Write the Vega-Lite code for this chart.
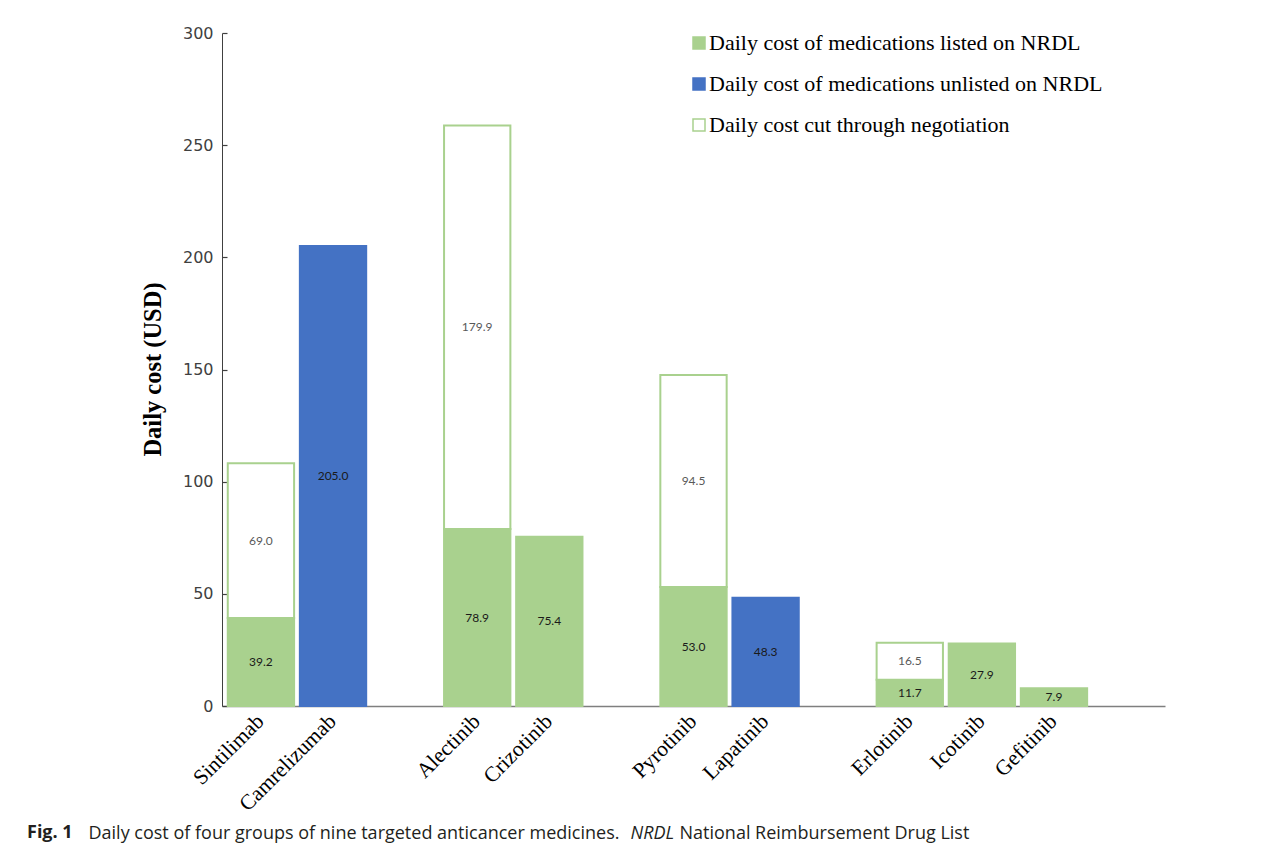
{
  "$schema": "https://vega.github.io/schema/vega-lite/v6.json",
  "width": 943,
  "height": 673,
  "autosize": {"type": "none"},
  "padding": {"left": 222, "top": 33, "right": 119, "bottom": 146},
  "background": "white",
  "config": {"view": {"stroke": null}},
  "title": {
    "text": "Fig. 1",
    "orient": "bottom",
    "anchor": "start",
    "frame": "group",
    "font": "Open Sans",
    "fontSize": 18,
    "fontWeight": "bold",
    "color": "#231f20",
    "dx": -195,
    "dy": -19,
    "offset": 1
  },
  "data": {
    "values": [
      {"drug": "Sintilimab", "seg": "Daily cost of medications listed on NRDL", "ord": 1, "value": 39.2, "label": "39.2"},
      {"drug": "Sintilimab", "seg": "Daily cost cut through negotiation", "ord": 2, "value": 69.0, "label": "69.0"},
      {"drug": "Camrelizumab", "seg": "Daily cost of medications unlisted on NRDL", "ord": 1, "value": 205.0, "label": "205.0"},
      {"drug": "Alectinib", "seg": "Daily cost of medications listed on NRDL", "ord": 1, "value": 78.9, "label": "78.9"},
      {"drug": "Alectinib", "seg": "Daily cost cut through negotiation", "ord": 2, "value": 179.9, "label": "179.9"},
      {"drug": "Crizotinib", "seg": "Daily cost of medications listed on NRDL", "ord": 1, "value": 75.4, "label": "75.4"},
      {"drug": "Pyrotinib", "seg": "Daily cost of medications listed on NRDL", "ord": 1, "value": 53.0, "label": "53.0"},
      {"drug": "Pyrotinib", "seg": "Daily cost cut through negotiation", "ord": 2, "value": 94.5, "label": "94.5"},
      {"drug": "Lapatinib", "seg": "Daily cost of medications unlisted on NRDL", "ord": 1, "value": 48.3, "label": "48.3"},
      {"drug": "Erlotinib", "seg": "Daily cost of medications listed on NRDL", "ord": 1, "value": 11.7, "label": "11.7"},
      {"drug": "Erlotinib", "seg": "Daily cost cut through negotiation", "ord": 2, "value": 16.5, "label": "16.5"},
      {"drug": "Icotinib", "seg": "Daily cost of medications listed on NRDL", "ord": 1, "value": 27.9, "label": "27.9"},
      {"drug": "Gefitinib", "seg": "Daily cost of medications listed on NRDL", "ord": 1, "value": 7.9, "label": "7.9"}
    ]
  },
  "transform": [
    {"stack": "value", "groupby": ["drug"], "sort": [{"field": "ord", "order": "ascending"}], "as": ["v0", "v1"]},
    {"calculate": "(datum.v0 + datum.v1) / 2", "as": "mid"}
  ],
  "resolve": {"axis": {"x": "independent", "y": "independent"}},
  "layer": [
    {
      "mark": {"type": "bar", "strokeWidth": 2},
      "encoding": {
        "x": {
          "field": "drug",
          "type": "nominal",
          "scale": {
            "domain": ["Sintilimab", "Camrelizumab", " ", "Alectinib", "Crizotinib", "  ", "Pyrotinib", "Lapatinib", "   ", "Erlotinib", "Icotinib", "Gefitinib", "    "],
            "paddingInner": 0.08,
            "paddingOuter": 0.08
          },
          "axis": {
            "orient": "bottom",
            "labelAngle": -45,
            "labelAlign": "right",
            "labelBaseline": "middle",
            "labelFont": "Liberation Serif",
            "labelFontSize": 21.5,
            "labelColor": "#000000",
            "labelPadding": 12,
            "ticks": false,
            "domainColor": "#7f7f7f",
            "domainWidth": 1.5,
            "title": "Daily cost of four groups of nine targeted anticancer medicines.",
            "titleX": -134,
            "titleY": 127,
            "titleAlign": "left",
            "titleBaseline": "middle",
            "titleFont": "Open Sans",
            "titleFontSize": 18,
            "titleFontWeight": "normal",
            "titleColor": "#231f20",
            "titleLimit": 1200,
            "labelOverlap": false
          }
        },
        "y": {
          "field": "v1",
          "type": "quantitative",
          "scale": {"domain": [0, 300]},
          "axis": {
            "orient": "left",
            "values": [0, 50, 100, 150, 200, 250, 300],
            "grid": false,
            "tickSize": -5,
            "tickWidth": 1.2,
            "tickColor": "#404040",
            "domainColor": "#404040",
            "labelFont": "DejaVu Sans",
            "labelFontSize": 16,
            "labelColor": "#404040",
            "labelPadding": 14,
            "title": "Daily cost (USD)",
            "titleFont": "Liberation Serif",
            "titleFontSize": 24.5,
            "titleFontWeight": "bold",
            "titleColor": "#000000",
            "titleX": -69,
            "titleY": 336,
            "titleAlign": "center",
            "titleBaseline": "middle",
            "titleAngle": 270
          }
        },
        "y2": {"field": "v0"},
        "fill": {
          "field": "seg",
          "type": "nominal",
          "scale": {
            "domain": ["Daily cost of medications listed on NRDL", "Daily cost of medications unlisted on NRDL", "Daily cost cut through negotiation"],
            "range": ["#a9d18e", "#4472c4", "#ffffff"]
          },
          "legend": {
            "orient": "none",
            "legendX": 466,
            "legendY": -1,
            "title": null,
            "symbolType": "square",
            "symbolSize": 144,
            "symbolStrokeWidth": 1.5,
            "labelFont": "Liberation Serif",
            "labelFontSize": 22,
            "labelColor": "#000000",
            "labelOffset": -1,
            "rowPadding": 19,
            "labelLimit": 500,
            "encode": {
              "symbols": {
                "update": {
                  "fill": {"signal": "datum.value === 'Daily cost of medications listed on NRDL' ? '#70ad47' : datum.value === 'Daily cost of medications unlisted on NRDL' ? '#4472c4' : '#ffffff'"}
                }
              }
            }
          }
        },
        "stroke": {
          "field": "seg",
          "type": "nominal",
          "scale": {
            "domain": ["Daily cost of medications listed on NRDL", "Daily cost of medications unlisted on NRDL", "Daily cost cut through negotiation"],
            "range": ["#a9d18e", "#4472c4", "#a9d18e"]
          },
          "legend": null
        }
      }
    },
    {
      "mark": {"type": "text", "font": "Lato", "fontSize": 12},
      "encoding": {
        "x": {
          "field": "drug",
          "type": "nominal",
          "axis": {
            "orient": "top",
            "domain": false,
            "labels": false,
            "ticks": false,
            "grid": false,
            "title": "NRDL",
            "titleX": 408,
            "titleY": 800,
            "titleAlign": "left",
            "titleBaseline": "middle",
            "titleFont": "Open Sans",
            "titleFontSize": 18,
            "titleFontWeight": "normal",
            "titleFontStyle": "italic",
            "titleColor": "#231f20"
          }
        },
        "y": {
          "field": "mid",
          "type": "quantitative",
          "axis": {
            "orient": "right",
            "domain": false,
            "labels": false,
            "ticks": false,
            "grid": false,
            "title": "National Reimbursement Drug List",
            "titleX": -486,
            "titleY": 800,
            "titleAngle": 0,
            "titleAlign": "left",
            "titleBaseline": "middle",
            "titleFont": "Open Sans",
            "titleFontSize": 18,
            "titleFontWeight": "normal",
            "titleColor": "#231f20",
            "titleLimit": 600
          }
        },
        "text": {"field": "label"},
        "color": {
          "condition": {"test": "datum.seg === 'Daily cost cut through negotiation'", "value": "#595959"},
          "value": "#1a1a1a"
        }
      }
    }
  ]
}
